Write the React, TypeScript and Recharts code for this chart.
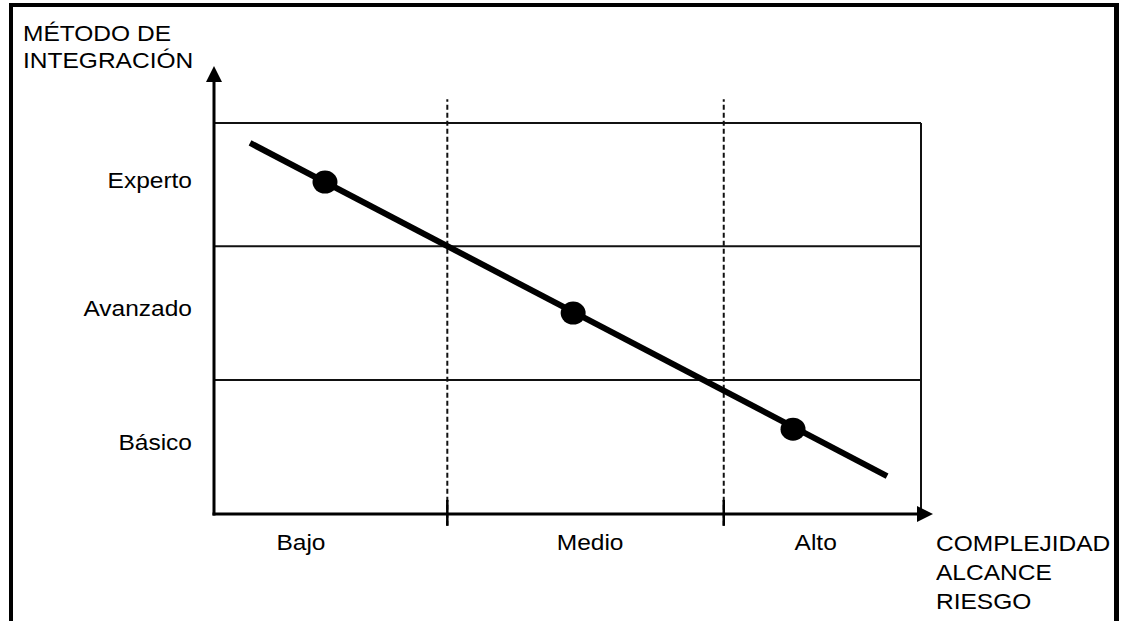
import React from 'react';
import { ComposedChart, Line, Scatter, XAxis, YAxis, ReferenceLine } from 'recharts';

// niveles del método de integración (eje Y, 0-100)
const levelNames = ['Básico', 'Avanzado', 'Experto'];
const levelTicks = [18.2, 52.7, 85.4];
const levelBounds = [34.3, 68.5, 100];

// complejidad / alcance / riesgo (eje X, 0-100)
const riskNames = ['Bajo', 'Medio', 'Alto'];
const riskTicks = [12.3, 53.2, 85.1];
const riskBounds = [33, 72.1];
const boxRight = 100;

const trendLine = [
  { x: 5.1, y: 94.9 },
  { x: 95.2, y: 9.7 },
];
const methodPoints = [
  { x: 15.7, y: 84.9 },
  { x: 50.8, y: 51.4 },
  { x: 81.9, y: 21.7 },
];
const axisEnds = { x: 101.7, y: 114.6 };
const dashedTop = 106.1;
const dashedBottom = -3;
const tickTop = 3.6;

const FONT = '"Liberation Sans", Arial, sans-serif';
const STRETCH = 1.14;

const arrowShape = (props: any) => {
  const { x1, y1, x2, y2 } = props;
  const dx = x2 - x1;
  const dy = y2 - y1;
  const len = Math.hypot(dx, dy) || 1;
  const ux = dx / len;
  const uy = dy / len;
  const head = 16;
  const half = 8;
  const bx = x2 - ux * head;
  const by = y2 - uy * head;
  return (
    <g>
      <line x1={x1} y1={y1} x2={bx} y2={by} stroke="#000" strokeWidth={3} strokeLinecap="square" />
      <polygon
        points={`${x2},${y2} ${bx - uy * half},${by + ux * half} ${bx + uy * half},${by - ux * half}`}
        fill="#000"
      />
    </g>
  );
};

const makeTick = (labels: string[], ticks: number[], anchor: string, dy: string) => (props: any) => {
  const { x, y, payload } = props;
  const label = labels[ticks.indexOf(payload.value)];
  return (
    <text
      transform={`translate(${x},${y}) scale(${STRETCH},1)`}
      textAnchor={anchor}
      dy={dy}
      fontSize={21.5}
      fontFamily={FONT}
      fill="#000"
    >
      {label}
    </text>
  );
};

const titleStyle: React.CSSProperties = {
  position: 'absolute',
  fontFamily: FONT,
  fontSize: 21.5,
  color: '#000',
  transform: `scaleX(${STRETCH})`,
  transformOrigin: 'left top',
  whiteSpace: 'nowrap',
};

export default function App() {
  return (
    <div
      style={{
        position: 'absolute',
        left: 0,
        top: 0,
        width: 1123,
        height: 621,
        overflow: 'hidden',
        background: '#fff',
        fontFamily: FONT,
      }}
    >
      <div
        style={{
          position: 'absolute',
          left: 9,
          top: 3,
          width: 1110,
          height: 618,
          boxSizing: 'border-box',
          borderLeft: '4px solid #000',
          borderRight: '5px solid #000',
          borderTop: '4px solid #000',
        }}
      />
      <div style={{ ...titleStyle, left: 23, top: 21, lineHeight: '27px' }}>
        MÉTODO DE
        <br />
        INTEGRACIÓN
      </div>
      <div style={{ ...titleStyle, left: 936, top: 530, lineHeight: '29px' }}>
        COMPLEJIDAD
        <br />
        ALCANCE
        <br />
        RIESGO
      </div>
      <div style={{ position: 'absolute', left: 0, top: 0 }}>
        <ComposedChart
          width={1123}
          height={621}
          margin={{ top: 123, right: 202, bottom: 67, left: 0 }}
        >
          <XAxis
            dataKey="x"
            type="number"
            domain={[0, 100]}
            ticks={riskTicks}
            axisLine={false}
            tickLine={false}
            tickSize={0}
            tickMargin={21}
            height={40}
            interval={0}
            tick={makeTick(riskNames, riskTicks, 'middle', '0.71em')}
          />
          <YAxis
            dataKey="y"
            type="number"
            domain={[0, 100]}
            ticks={levelTicks}
            axisLine={false}
            tickLine={false}
            tickSize={0}
            tickMargin={22}
            width={214}
            interval={0}
            tick={makeTick(levelNames, levelTicks, 'end', '0.355em')}
          />
          {levelBounds.map((b) => (
            <ReferenceLine key={`h${b}`} y={b} stroke="#111" strokeWidth={2} ifOverflow="visible" />
          ))}
          <ReferenceLine
            segment={[
              { x: boxRight, y: 0 },
              { x: boxRight, y: 100 },
            ]}
            stroke="#111"
            strokeWidth={2}
            ifOverflow="visible"
          />
          {riskBounds.map((b) => (
            <ReferenceLine
              key={`d${b}`}
              segment={[
                { x: b, y: dashedBottom },
                { x: b, y: dashedTop },
              ]}
              stroke="#111"
              strokeWidth={2}
              strokeDasharray="5 3"
              ifOverflow="visible"
            />
          ))}
          {riskBounds.map((b) => (
            <ReferenceLine
              key={`t${b}`}
              segment={[
                { x: b, y: dashedBottom },
                { x: b, y: tickTop },
              ]}
              stroke="#000"
              strokeWidth={2.5}
              ifOverflow="visible"
            />
          ))}
          <ReferenceLine
            segment={[
              { x: 0, y: 0 },
              { x: 0, y: axisEnds.y },
            ]}
            shape={arrowShape}
            ifOverflow="visible"
          />
          <ReferenceLine
            segment={[
              { x: 0, y: 0 },
              { x: axisEnds.x, y: 0 },
            ]}
            shape={arrowShape}
            ifOverflow="visible"
          />
          <Line
            data={trendLine}
            dataKey="y"
            type="linear"
            stroke="#000"
            strokeWidth={6}
            dot={false}
            activeDot={false}
            isAnimationActive={false}
          />
          <Scatter
            data={methodPoints}
            dataKey="y"
            isAnimationActive={false}
            shape={(p: any) => <ellipse cx={p.cx} cy={p.cy} rx={12.5} ry={11.5} fill="#000" />}
          />
        </ComposedChart>
      </div>
    </div>
  );
}
